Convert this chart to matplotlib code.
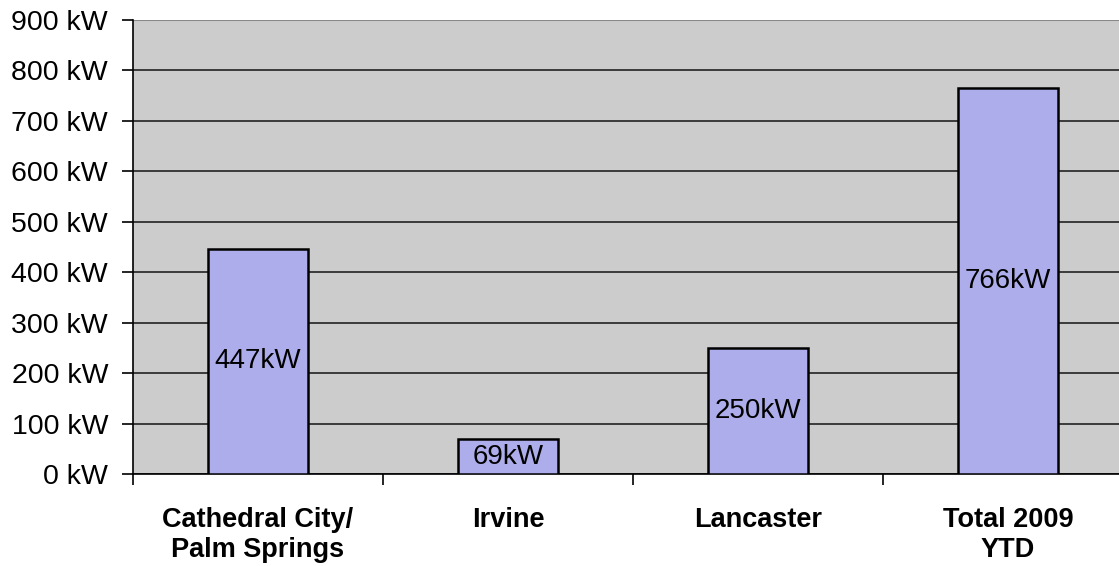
import matplotlib
matplotlib.use('Agg')
import matplotlib.pyplot as plt

categories = ['Cathedral City/\nPalm Springs', 'Irvine', 'Lancaster', 'Total 2009\nYTD']
values = [447, 69, 250, 766]
bar_labels = ['447kW', '69kW', '250kW', '766kW']
y_ticks = [0, 100, 200, 300, 400, 500, 600, 700, 800, 900]

plt.rcParams['font.family'] = ['Liberation Sans', 'DejaVu Sans']

fig = plt.figure(figsize=(11.19, 5.66), dpi=100)
ax = fig.add_axes([133 / 1119, 92 / 566, 1000 / 1119, 454 / 566])
ax.set_facecolor('#cccccc')

x = list(range(len(categories)))
bars = ax.bar(x, values, width=0.4, color='#adadec', edgecolor='black', linewidth=1.8, zorder=3)
for b, lab in zip(bars, bar_labels):
    ax.text(b.get_x() + b.get_width() / 2, b.get_height() / 2, lab,
            ha='center', va='center', fontsize=20, zorder=4)

ax.set_ylim(0, 900)
ax.set_xlim(-0.5, len(categories) - 0.5)
ax.set_yticks(y_ticks)
ax.set_yticklabels([f'{v} kW' for v in y_ticks], fontsize=20.5)
ax.yaxis.grid(True, color='#222222', linewidth=1.2, zorder=1)
ax.tick_params(axis='y', length=8, width=1.2, pad=10, direction='out')

# category boundaries get the ticks, names sit in between
ax.set_xticks([i - 0.5 for i in range(len(categories) + 1)])
ax.set_xticklabels([])
ax.set_xticks(x, minor=True)
ax.set_xticklabels(categories, minor=True, fontsize=19.5, fontweight='bold', linespacing=1.2)
ax.tick_params(axis='x', which='major', length=8, width=1.2, direction='out')
ax.tick_params(axis='x', which='minor', length=0, pad=24)

for s in ['top', 'right']:
    ax.spines[s].set_visible(False)
ax.spines['left'].set_linewidth(1.2)
ax.spines['bottom'].set_linewidth(1.2)
ax.axhline(900, color='#888888', linewidth=1.5, zorder=2)

fig.savefig('out.png', dpi=100)
